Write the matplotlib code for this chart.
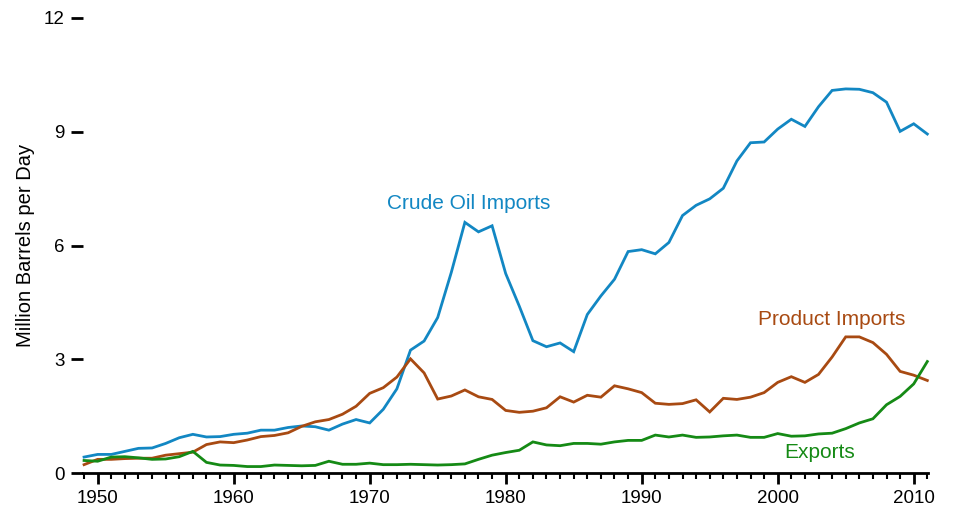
import matplotlib
matplotlib.use("Agg")
import matplotlib.pyplot as plt
from matplotlib.ticker import MultipleLocator

plt.rcParams['font.family'] = ['Liberation Sans', 'DejaVu Sans']

years = list(range(1949, 2012))
crude_imports = [0.42, 0.49, 0.49, 0.57, 0.65, 0.66, 0.78, 0.93, 1.02, 0.95,
                 0.96, 1.02, 1.05, 1.13, 1.13, 1.20, 1.24, 1.22, 1.13, 1.29,
                 1.41, 1.32, 1.68, 2.22, 3.24, 3.48, 4.10, 5.29, 6.61, 6.36,
                 6.52, 5.26, 4.40, 3.49, 3.33, 3.43, 3.20, 4.18, 4.67, 5.11,
                 5.84, 5.89, 5.78, 6.08, 6.79, 7.06, 7.23, 7.51, 8.23, 8.71,
                 8.73, 9.07, 9.33, 9.14, 9.66, 10.09, 10.13, 10.12, 10.03, 9.78,
                 9.01, 9.21, 8.94]
product_imports = [0.22, 0.36, 0.36, 0.38, 0.39, 0.39, 0.47, 0.51, 0.55, 0.75,
                   0.82, 0.80, 0.87, 0.96, 0.99, 1.06, 1.23, 1.35, 1.41, 1.55,
                   1.76, 2.10, 2.25, 2.53, 3.01, 2.64, 1.95, 2.03, 2.19, 2.01,
                   1.94, 1.65, 1.60, 1.63, 1.72, 2.01, 1.87, 2.05, 2.00, 2.30,
                   2.22, 2.12, 1.84, 1.81, 1.83, 1.93, 1.61, 1.97, 1.94, 2.00,
                   2.12, 2.39, 2.54, 2.39, 2.60, 3.06, 3.59, 3.59, 3.44, 3.13,
                   2.68, 2.58, 2.44]
exports = [0.33, 0.31, 0.42, 0.43, 0.40, 0.36, 0.37, 0.43, 0.57, 0.28,
           0.21, 0.20, 0.17, 0.17, 0.21, 0.20, 0.19, 0.20, 0.31, 0.23,
           0.23, 0.26, 0.22, 0.22, 0.23, 0.22, 0.21, 0.22, 0.24, 0.36,
           0.47, 0.54, 0.60, 0.82, 0.74, 0.72, 0.78, 0.78, 0.76, 0.82,
           0.86, 0.86, 1.00, 0.95, 1.00, 0.94, 0.95, 0.98, 1.00, 0.94,
           0.94, 1.04, 0.97, 0.98, 1.03, 1.05, 1.17, 1.32, 1.43, 1.80,
           2.02, 2.35, 2.94]

series_labels = ["Crude Oil Imports", "Product Imports", "Exports"]
colors = ["#1287c3", "#a84a12", "#158a15"]
yticks = [0, 3, 6, 9, 12]
xticks = [1950, 1960, 1970, 1980, 1990, 2000, 2010]

W, H = 957, 513
fig = plt.figure(figsize=(W / 100, H / 100), dpi=100)
ax = fig.add_axes([82.7 / W, 1 - 473 / H, (928 - 82.7) / W, (473 - 18) / H])

for vals, c in zip([crude_imports, product_imports, exports], colors):
    ax.plot(years, vals, color=c, lw=2.0, solid_joinstyle='miter', clip_on=False)

ax.set_xlim(1948.9, 2011.05)
ax.set_ylim(0, 12)
for s in ['top', 'right', 'left']:
    ax.spines[s].set_visible(False)
ax.spines['bottom'].set_linewidth(2)

ax.set_xticks(xticks)
ax.xaxis.set_minor_locator(MultipleLocator(1))
ax.set_yticks(yticks)
ax.tick_params(axis='x', which='major', length=8, width=2, labelsize=13.5, pad=4)
ax.tick_params(axis='x', which='minor', length=4, width=1.5)
ax.tick_params(axis='y', which='major', length=9, width=2, labelsize=13.5, pad=4)
ax.set_ylabel("Million Barrels per Day", fontsize=14.5)
ax.yaxis.set_label_coords(-0.056, 0.5)

ax.text(1977.3, 7.12, series_labels[0], color=colors[0], fontsize=15, ha='center', va='center')
ax.text(2003.95, 4.06, series_labels[1], color=colors[1], fontsize=15, ha='center', va='center')
ax.text(2003.1, 0.53, series_labels[2], color=colors[2], fontsize=15, ha='center', va='center')

fig.savefig("out.png", dpi=100)
